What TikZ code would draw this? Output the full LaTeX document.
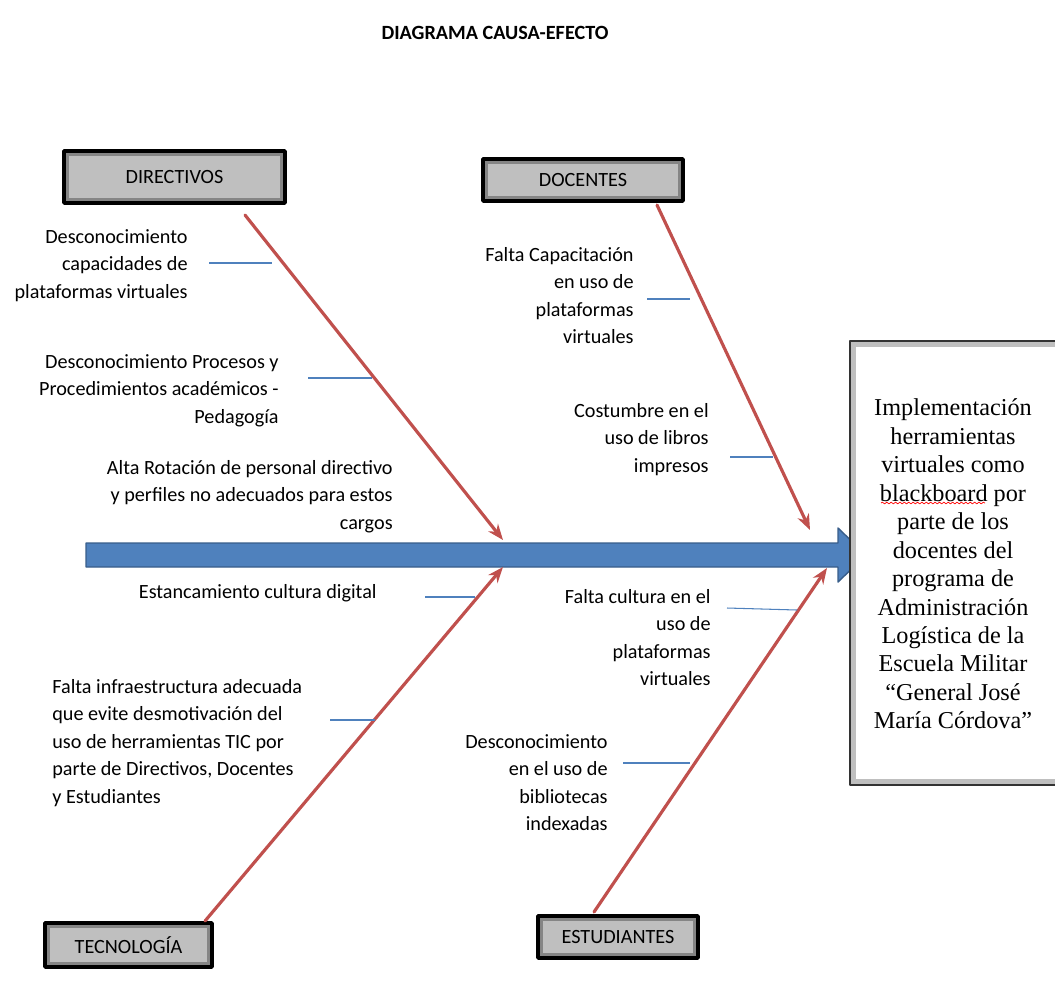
\documentclass[tikz,border=0pt]{standalone}
\usepackage{fontspec}
\setmainfont{Carlito}
\newfontfamily\romana{Liberation Serif}
\usetikzlibrary{arrows.meta,decorations.pathmorphing}
\definecolor{espina}{RGB}{79,129,189}
\definecolor{espinaborde}{RGB}{56,93,138}
\definecolor{rojohueso}{RGB}{192,80,77}
\definecolor{cajagris}{RGB}{191,191,191}
\begin{document}
\begin{tikzpicture}[x=0.02cm,y=-0.02cm, font=\fontsize{11.5}{15.6}\selectfont, line join=round,
  categoria/.style={draw=black,line width=2pt,fill=cajagris,inner sep=0pt,
    path picture={\draw[line width=6pt,black,opacity=.3] (path picture bounding box.south west) rectangle (path picture bounding box.north east);}},
  hueso/.style={rojohueso,line width=1.8pt,line cap=round,-{Stealth[length=9pt,width=7pt]}},
  costilla/.style={espina,line width=.6pt},
  causa/.style={align=right,anchor=north east,inner sep=0pt}]
\useasboundingbox (0,0) rectangle (1055,995);
\node[font=\fontsize{11.5}{14}\selectfont\bfseries] (titulo) at (495,33) {DIAGRAMA CAUSA-EFECTO};
\node[categoria,minimum width=4.42cm,minimum height=1.04cm] (dir) at (174.5,177) {DIRECTIVOS};
\node[categoria,minimum width=4cm,minimum height=.84cm] (doc) at (583,180) {DOCENTES};
\node[categoria,minimum width=3.34cm,minimum height=.88cm] (tec) at (128.5,945) {TECNOLOGÍA};
\node[categoria,minimum width=3.2cm,minimum height=.84cm] (est) at (618,937) {ESTUDIANTES};
\path (245,215) coordinate (hdir) (503,540) coordinate (pdir)
      (657,205) coordinate (hdoc) (810,530) coordinate (pdoc)
      (205,921) coordinate (htec) (503,567) coordinate (ptec)
      (594,912) coordinate (hest) (827,568) coordinate (pest);
\path (209,263) coordinate (a1) (272,263) coordinate (b1)
      (308,378) coordinate (a2) (372,378) coordinate (b2)
      (647,299) coordinate (a3) (690,299) coordinate (b3)
      (730,457) coordinate (a4) (773,457) coordinate (b4)
      (425,597) coordinate (a5) (475,597) coordinate (b5)
      (330,720) coordinate (a6) (375,720) coordinate (b6)
      (727,608) coordinate (a7) (797,610) coordinate (b7)
      (623,763) coordinate (a8) (690,763) coordinate (b8);
\draw[espinaborde,fill=espina,line width=.8pt] (86,543) -- (838,543) -- (838,528) -- (866,555) -- (838,582) -- (838,567) -- (86,567) -- cycle;
\foreach \c in {dir,doc,tec,est}
  \draw[hueso] (h\c) -- (p\c);
\foreach \i in {1,...,8}
  \draw[costilla] (a\i) -- (b\i);
\node[causa] (c1) at (188,229) {Desconocimiento\\capacidades de\\plataformas virtuales};
\node[causa] (c2) at (279,354) {Desconocimiento Procesos y\\Procedimientos académicos -\\Pedagogía};
\node[causa] (c3) at (393,460) {Alta Rotación de personal directivo\\y perfiles no adecuados para estos\\cargos};
\node[causa] (c4) at (634,247) {Falta Capacitación\\en uso de\\plataformas\\virtuales};
\node[causa] (c5) at (709,403) {Costumbre en el\\uso de libros\\impresos};
\node[causa] (c6) at (377,584) {Estancamiento cultura digital};
\node[causa,align=left,anchor=north west] (c7) at (52,679) {Falta infraestructura adecuada\\que evite desmotivación del\\uso de herramientas TIC por\\parte de Directivos, Docentes\\y Estudiantes};
\node[causa] (c8) at (711,589) {Falta cultura en el\\uso de\\plataformas\\virtuales};
\node[causa] (c9) at (608,734) {Desconocimiento\\en el uso de\\bibliotecas\\indexadas};
\path[draw=black!80,line width=1.2pt,fill=white,
  path picture={\draw[line width=7pt,black,opacity=.25] (path picture bounding box.south west) rectangle (path picture bounding box.north east);}]
  (850,341) rectangle (1075,785);
\node[font=\romana\fontsize{13.8}{16.2}\selectfont,align=center] (efecto) at (953,564) {Implementación\\herramientas\\virtuales como\\blackboard por\\parte de los\\docentes del\\programa de\\Administración\\Logística de la\\Escuela Militar\\“General José\\María Córdova”};
\draw[red,line width=.4pt,decorate,decoration={snake,amplitude=.5pt,segment length=2.5pt}] (881,503) -- (985,503);
\end{tikzpicture}
\end{document}
